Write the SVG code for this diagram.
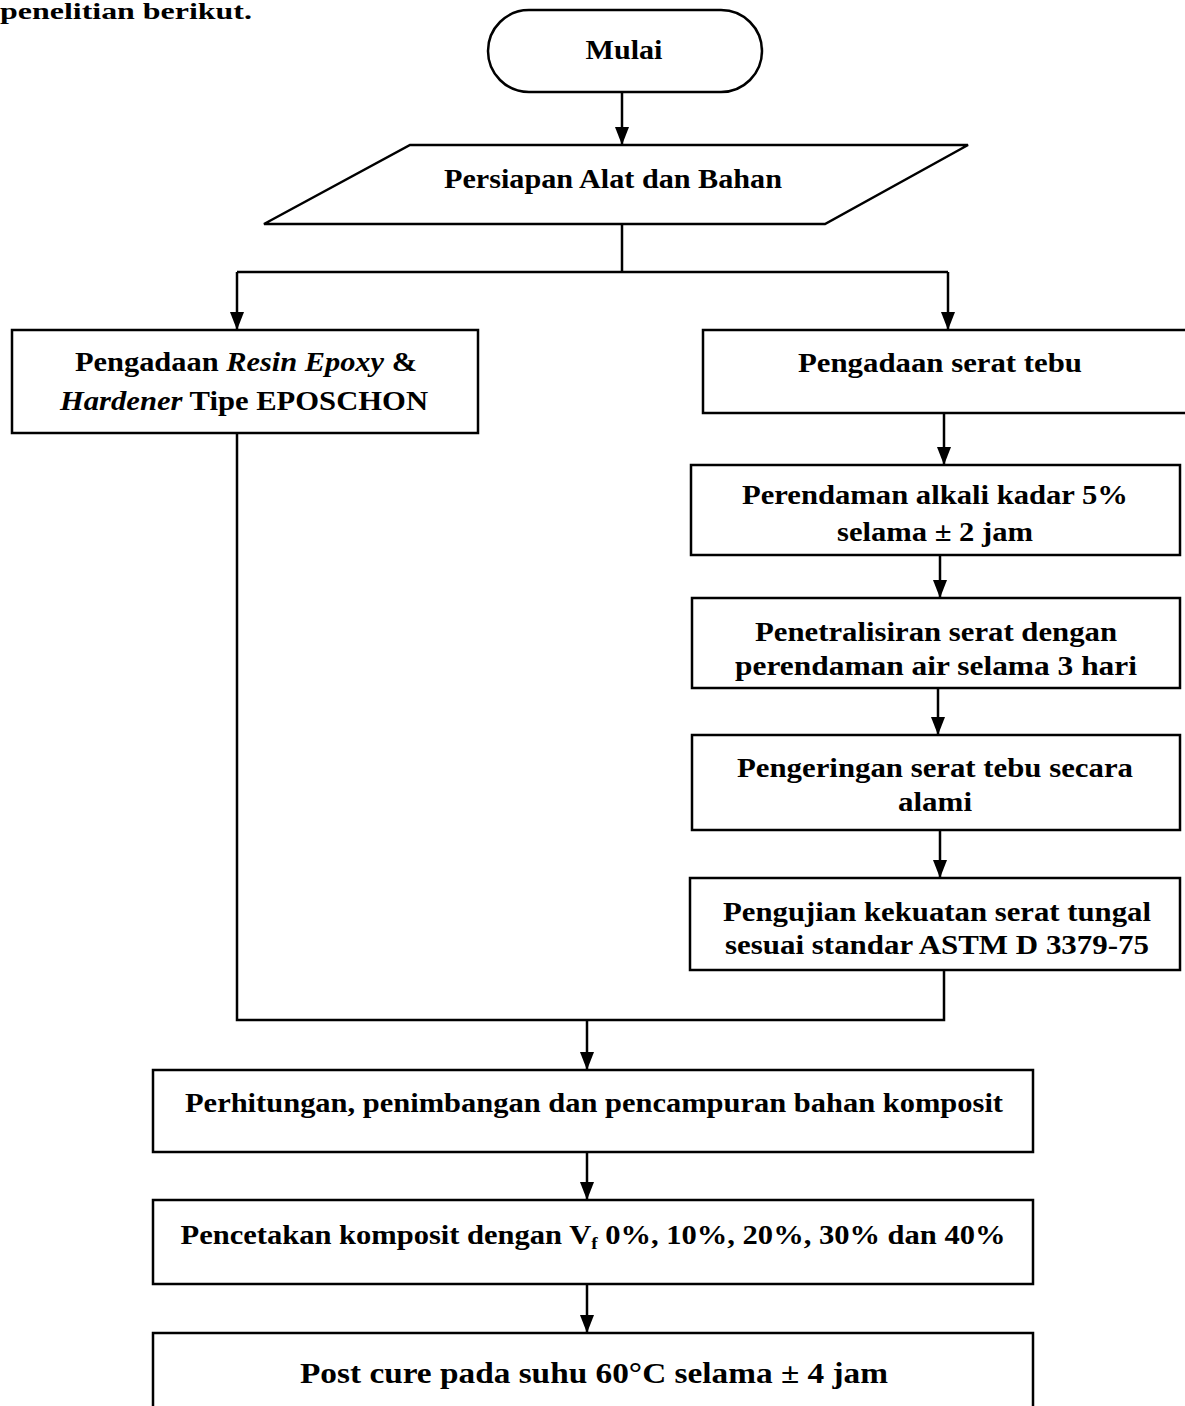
<svg xmlns="http://www.w3.org/2000/svg" width="1185" height="1406" viewBox="0 0 1185 1406">
<style>
.b{fill:#fff;stroke:#000;stroke-width:2.5}
.t{font-family:"Liberation Serif","Times New Roman",serif;font-weight:bold;font-size:27px;fill:#000;text-anchor:middle}
.c{fill:none;stroke:#000;stroke-width:2.5}
</style>
<defs>
<marker id="ah" markerWidth="18" markerHeight="14" refX="18" refY="7" orient="auto" markerUnits="userSpaceOnUse" viewBox="0 0 18 14">
<path d="M0,0 L18,7 L0,14 Z" fill="#000"/>
</marker>
</defs>
<rect width="1185" height="1406" fill="#fff"/>
<text x="0" y="19" style="font-family:'Liberation Serif',serif;font-weight:bold;font-size:24px" textLength="252" lengthAdjust="spacingAndGlyphs">penelitian berikut.</text>
<g id="connectors">
<path class="c" d="M622,92 V145" marker-end="url(#ah)"/>
<path class="c" d="M622,225 V272 M237,272 H948"/>
<path class="c" d="M237,272 V330" marker-end="url(#ah)"/>
<path class="c" d="M948,272 V330" marker-end="url(#ah)"/>
<path class="c" d="M944,413 V465" marker-end="url(#ah)"/>
<path class="c" d="M940,555 V598" marker-end="url(#ah)"/>
<path class="c" d="M938,688 V735" marker-end="url(#ah)"/>
<path class="c" d="M940,830 V878" marker-end="url(#ah)"/>
<path class="c" d="M237,433 V1020 H944 V970"/>
<path class="c" d="M587,1020 V1070" marker-end="url(#ah)"/>
<path class="c" d="M587,1152 V1200" marker-end="url(#ah)"/>
<path class="c" d="M587,1284 V1333" marker-end="url(#ah)"/>
</g>
<g id="mulai">
<rect class="b" x="488" y="10" width="274" height="82" rx="41"/>
<text class="t" x="624" y="59" textLength="77" lengthAdjust="spacingAndGlyphs">Mulai</text>
</g>
<g id="persiapan">
<polygon class="b" points="410,145 968,145 825,224 264,224"/>
<text class="t" x="613" y="188" textLength="338" lengthAdjust="spacingAndGlyphs">Persiapan Alat dan Bahan</text>
</g>
<g id="resin">
<rect class="b" x="12" y="330" width="466" height="103"/>
<text class="t" x="246" y="371" textLength="342" lengthAdjust="spacingAndGlyphs">Pengadaan <tspan font-style="italic">Resin Epoxy</tspan> &amp;</text>
<text class="t" x="244" y="410" textLength="368" lengthAdjust="spacingAndGlyphs"><tspan font-style="italic">Hardener</tspan> Tipe EPOSCHON</text>
</g>
<g id="serat">
<rect class="b" x="703" y="330" width="490" height="83"/>
<text class="t" x="940" y="372" textLength="284" lengthAdjust="spacingAndGlyphs">Pengadaan serat tebu</text>
</g>
<g id="perendaman">
<rect class="b" x="691" y="465" width="489" height="90"/>
<text class="t" x="935" y="504" textLength="386" lengthAdjust="spacingAndGlyphs">Perendaman alkali kadar 5%</text>
<text class="t" x="935" y="541" textLength="196" lengthAdjust="spacingAndGlyphs">selama ± 2 jam</text>
</g>
<g id="penetralisiran">
<rect class="b" x="692" y="598" width="488" height="90"/>
<text class="t" x="936" y="641" textLength="362" lengthAdjust="spacingAndGlyphs">Penetralisiran serat dengan</text>
<text class="t" x="936" y="675" textLength="402" lengthAdjust="spacingAndGlyphs">perendaman air selama 3 hari</text>
</g>
<g id="pengeringan">
<rect class="b" x="692" y="735" width="488" height="95"/>
<text class="t" x="935" y="777" textLength="396" lengthAdjust="spacingAndGlyphs">Pengeringan serat tebu secara</text>
<text class="t" x="935" y="811" textLength="74" lengthAdjust="spacingAndGlyphs">alami</text>
</g>
<g id="pengujian">
<rect class="b" x="690" y="878" width="490" height="92"/>
<text class="t" x="937" y="921" textLength="428" lengthAdjust="spacingAndGlyphs">Pengujian kekuatan serat tungal</text>
<text class="t" x="937" y="954" textLength="424" lengthAdjust="spacingAndGlyphs">sesuai standar ASTM D 3379-75</text>
</g>
<g id="perhitungan">
<rect class="b" x="153" y="1070" width="880" height="82"/>
<text class="t" x="594" y="1112" textLength="818" lengthAdjust="spacingAndGlyphs">Perhitungan, penimbangan dan pencampuran bahan komposit</text>
</g>
<g id="pencetakan">
<rect class="b" x="153" y="1200" width="880" height="84"/>
<text class="t" x="593" y="1244" textLength="825" lengthAdjust="spacingAndGlyphs">Pencetakan komposit dengan V<tspan font-size="17" dy="5">f</tspan><tspan dy="-5"> 0%, 10%, 20%, 30% dan 40%</tspan></text>
</g>
<g id="postcure">
<rect class="b" x="153" y="1333" width="880" height="90"/>
<text class="t" x="594" y="1383" style="font-size:30px" textLength="588" lengthAdjust="spacingAndGlyphs">Post cure pada suhu 60°C selama ± 4 jam</text>
</g>
</svg>
